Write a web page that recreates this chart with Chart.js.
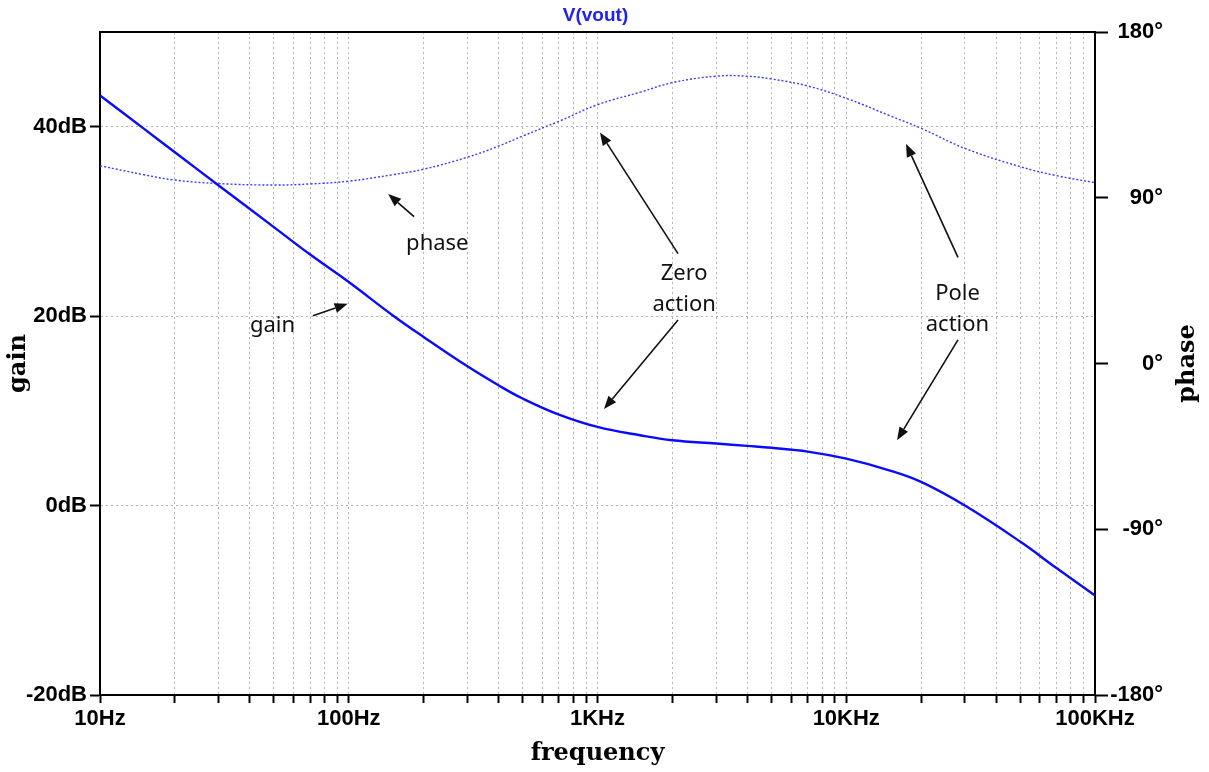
<!DOCTYPE html>
<html>
<head>
<meta charset="utf-8">
<script src="https://cdn.jsdelivr.net/npm/chart.js@4/dist/chart.umd.min.js"></script>
<style>
  html, body { margin: 0; padding: 0; background: #fff; }
  #wrap { width: 1209px; height: 772px; }
</style>
</head>
<body>
<div id="wrap"><canvas id="bode" width="1209" height="772"></canvas></div>
<script>
// values (Hz, dB, degrees)
const freqs = [10, 15, 20, 30, 50, 70, 100, 150, 200, 300, 400, 500, 700, 1000, 1500, 2000,
               3000, 4000, 5000, 7000, 10000, 15000, 20000, 30000, 50000, 70000, 100000];
const gainDb = [43.3, 39.8, 37.3, 33.8, 29.4, 26.5, 23.6, 20.1, 17.8, 14.7, 12.7, 11.3, 9.6, 8.3, 7.4, 6.9,
                6.55, 6.3, 6.1, 5.7, 4.95, 3.7, 2.5, 0.0, -3.8, -6.6, -9.5];
const phaseDeg = [107.4, 102.5, 99.6, 97.7, 96.9, 97.5, 99.0, 102.5, 105.5, 112, 118, 123.5, 131.5, 140.5, 147.5, 152.5,
                  156, 156, 154.5, 150.7, 144, 134.5, 127.7, 116.8, 106.9, 102, 98.2];

const gainTicks = [-20, 0, 20, 40];
const phaseTicks = [-180, -90, 0, 90, 180];
const decadeLabels = { 10: '10Hz', 100: '100Hz', 1000: '1KHz', 10000: '10KHz', 100000: '100KHz' };

// annotation text and arrows, placed in (Hz, dB) coordinates
const notes = [
  { lines: ['phase'], f: 227, db: 27.0 },
  { lines: ['gain'], f: 49.4, db: 18.3 },
  { lines: ['Zero', 'action'], f: 2230, db: 23.85 },
  { lines: ['Pole', 'action'], f: 28000, db: 21.7 }
];
const arrows = [
  { from: [183, 30.5], to: [144, 32.9] },
  { from: [71.8, 20.05], to: [99, 21.3] },
  { from: [2107, 26.6], to: [1023, 39.4] },
  { from: [2107, 19.6], to: [1062, 10.2] },
  { from: [28130, 26.2], to: [17390, 38.2] },
  { from: [28130, 17.5], to: [16000, 6.9] }
];

function logTicks(min, max) {
  const out = [];
  for (let d = min; d < max; d *= 10) {
    for (let m = 1; m < 10; m++) out.push({ value: m * d });
  }
  out.push({ value: max });
  return out;
}

Chart.defaults.font.family = '"Liberation Sans", Arial, sans-serif';
Chart.defaults.color = '#000';

const tickFont = { family: '"Liberation Sans", Arial, sans-serif', size: 22, weight: 'bold' };
const titleFont = { family: '"DejaVu Serif", serif', size: 24, weight: 'bold' };
const gridColor = '#b4b4b4';

// plot title, top border and the right axis title (reads bottom to top)
const framePlugin = {
  id: 'frame',
  afterDraw(chart) {
    const { ctx, chartArea } = chart;
    const midX = (chartArea.left + chartArea.right) / 2;
    ctx.save();
    ctx.font = 'bold 19px "Liberation Sans", Arial, sans-serif';
    ctx.fillStyle = '#2020f0';
    ctx.textAlign = 'center';
    ctx.textBaseline = 'middle';
    ctx.fillText('V(vout)', midX - 2, chartArea.top - 16);

    ctx.strokeStyle = '#000';
    ctx.lineWidth = 2;
    ctx.beginPath();
    ctx.moveTo(chartArea.left - 1, chartArea.top);
    ctx.lineTo(chartArea.right + 1, chartArea.top);
    ctx.stroke();

    ctx.translate(chart.width - 21, (chartArea.top + chartArea.bottom) / 2);
    ctx.rotate(-Math.PI / 2);
    ctx.font = 'bold 24px "DejaVu Serif", serif';
    ctx.fillStyle = '#000';
    ctx.fillText('phase', 0, 0);
    ctx.restore();
  }
};

const notesPlugin = {
  id: 'notes',
  afterDatasetsDraw(chart) {
    const { ctx } = chart;
    const xs = chart.scales.x, ys = chart.scales.y;
    ctx.save();
    ctx.fillStyle = '#111';
    ctx.strokeStyle = '#111';
    ctx.font = '22px "Noto Sans", "Open Sans", sans-serif';
    ctx.textAlign = 'center';
    ctx.textBaseline = 'alphabetic';
    notes.forEach(n => {
      const px = xs.getPixelForValue(n.f);
      const py = ys.getPixelForValue(n.db);
      n.lines.forEach((t, i) => ctx.fillText(t, px, py + i * 31));
    });

    ctx.lineWidth = 1.6;
    arrows.forEach(a => {
      const x0 = xs.getPixelForValue(a.from[0]), y0 = ys.getPixelForValue(a.from[1]);
      const x1 = xs.getPixelForValue(a.to[0]), y1 = ys.getPixelForValue(a.to[1]);
      const ang = Math.atan2(y1 - y0, x1 - x0);
      const len = 13, half = 5;
      const bx = x1 - len * Math.cos(ang), by = y1 - len * Math.sin(ang);
      ctx.beginPath();
      ctx.moveTo(x0, y0);
      ctx.lineTo(bx, by);
      ctx.stroke();
      ctx.beginPath();
      ctx.moveTo(x1, y1);
      ctx.lineTo(bx + half * Math.sin(ang), by - half * Math.cos(ang));
      ctx.lineTo(bx - half * Math.sin(ang), by + half * Math.cos(ang));
      ctx.closePath();
      ctx.fill();
    });
    ctx.restore();
  }
};

new Chart(document.getElementById('bode'), {
  type: 'line',
  data: {
    datasets: [
      {
        label: 'gain',
        data: freqs.map((f, i) => ({ x: f, y: gainDb[i] })),
        yAxisID: 'y',
        borderColor: '#0a0aff',
        borderWidth: 2.4,
        pointRadius: 0,
        tension: 0.4,
        fill: false
      },
      {
        label: 'phase',
        data: freqs.map((f, i) => ({ x: f, y: phaseDeg[i] })),
        yAxisID: 'y1',
        borderColor: '#3a3aff',
        borderWidth: 1.4,
        borderDash: [2, 2],
        pointRadius: 0,
        tension: 0.4,
        fill: false
      }
    ]
  },
  options: {
    responsive: false,
    animation: false,
    devicePixelRatio: 1,
    layout: { padding: { left: 0, top: 32, bottom: 0, right: 46 } },
    plugins: {
      legend: { display: false },
      tooltip: { enabled: false },
      title: { display: false }
    },
    scales: {
      x: {
        type: 'logarithmic',
        position: 'bottom',
        min: 10,
        max: 100000,
        afterBuildTicks: s => { s.ticks = logTicks(10, 100000); },
        afterFit: s => { s.height = 77; },
        ticks: {
          autoSkip: false,
          maxRotation: 0,
          padding: 3,
          font: tickFont,
          color: '#000',
          callback: v => decadeLabels[v] || ''
        },
        grid: { color: gridColor, lineWidth: 1, tickColor: '#000', tickLength: 8, tickWidth: 2 },
        border: { color: '#000', width: 2, dash: [2, 3] },
        title: { display: true, text: 'frequency', font: titleFont, color: '#000', padding: { top: 0, bottom: 4 } }
      },
      y: {
        position: 'left',
        min: -20,
        max: 50,
        afterBuildTicks: s => { s.ticks = gainTicks.map(v => ({ value: v })); },
        afterFit: s => { s.width = 100; },
        ticks: { font: tickFont, color: '#000', padding: 3, callback: v => v + 'dB' },
        grid: { color: gridColor, lineWidth: 1, tickColor: '#000', tickLength: 10, tickWidth: 2 },
        border: { color: '#000', width: 2, dash: [2, 3] },
        title: { display: true, text: 'gain', font: titleFont, color: '#000', padding: { top: 4, bottom: 0 } }
      },
      y1: {
        position: 'right',
        min: -180,
        max: 180,
        afterBuildTicks: s => { s.ticks = phaseTicks.map(v => ({ value: v })); },
        afterFit: s => { s.width = 68; },
        ticks: { font: tickFont, color: '#000', padding: 3, crossAlign: 'far', callback: v => v + '°' },
        grid: { drawOnChartArea: false, tickColor: '#000', tickLength: 13, tickWidth: 2 },
        border: { color: '#000', width: 2 }
      }
    }
  },
  plugins: [framePlugin, notesPlugin]
});
</script>
</body>
</html>
